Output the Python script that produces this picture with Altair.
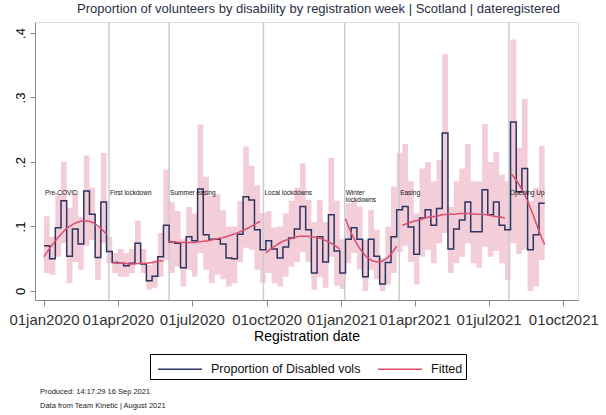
import altair as alt
import pandas as pd

# ---------------- data ----------------
week_start = pd.date_range("2020-01-01", periods=89, freq="7D").strftime("%Y-%m-%d").tolist()

prop = [
    0.070, 0.050, 0.098, 0.140, 0.054, 0.096, 0.073, 0.155, 0.119, 0.052,
    0.138, 0.061, 0.044, 0.043, 0.039, 0.043, 0.074, 0.042, 0.016, 0.023,
    0.053, 0.102, 0.076, 0.074, 0.036, 0.084, 0.078, 0.158, 0.087, 0.080,
    0.080, 0.073, 0.051, 0.050, 0.088, 0.146, 0.141, 0.095, 0.064, 0.078,
    0.065, 0.051, 0.068, 0.082, 0.096, 0.131, 0.095, 0.028, 0.084, 0.045,
    0.118, 0.062, 0.028, 0.080, 0.098, 0.080, 0.022, 0.080, 0.054, 0.011,
    0.044, 0.084, 0.126, 0.131, 0.099, 0.057, 0.113, 0.126, 0.102, 0.128,
    0.245, 0.065, 0.096, 0.110, 0.138, 0.092, 0.092, 0.157, 0.118, 0.138,
    0.102, 0.095, 0.262, 0.154, 0.190, 0.064, 0.087, 0.136, 0.136,
]
upper = [
    0.116, 0.084, 0.150, 0.200, 0.129, 0.150, 0.115, 0.210, 0.160, 0.100,
    0.214, 0.084, 0.059, 0.065, 0.059, 0.065, 0.109, 0.065, 0.040, 0.048,
    0.090, 0.188, 0.138, 0.124, 0.080, 0.130, 0.120, 0.258, 0.177, 0.147,
    0.150, 0.125, 0.100, 0.100, 0.140, 0.224, 0.194, 0.164, 0.121, 0.124,
    0.098, 0.100, 0.120, 0.140, 0.160, 0.198, 0.141, 0.107, 0.141, 0.107,
    0.206, 0.140, 0.080, 0.136, 0.140, 0.131, 0.079, 0.126, 0.095, 0.051,
    0.100, 0.162, 0.214, 0.228, 0.170, 0.120, 0.190, 0.200, 0.170, 0.203,
    0.367, 0.130, 0.170, 0.190, 0.228, 0.170, 0.170, 0.259, 0.200, 0.216,
    0.180, 0.170, 0.390, 0.222, 0.298, 0.140, 0.160, 0.225, 0.225,
]
lower = [
    0.028, 0.025, 0.053, 0.074, 0.012, 0.045, 0.033, 0.070, 0.079, 0.017,
    0.074, 0.043, 0.028, 0.022, 0.022, 0.028, 0.043, 0.028, 0.002, 0.005,
    0.022, 0.048, 0.028, 0.038, 0.007, 0.033, 0.022, 0.059, 0.033, 0.012,
    0.025, 0.018, 0.007, 0.012, 0.045, 0.067, 0.064, 0.033, 0.012, 0.028,
    0.012, 0.007, 0.022, 0.038, 0.045, 0.060, 0.045, 0.002, 0.022, 0.005,
    0.053, 0.008, 0.003, 0.043, 0.059, 0.033, 0.000, 0.033, 0.018, 0.000,
    0.010, 0.028, 0.060, 0.070, 0.045, 0.010, 0.053, 0.064, 0.043, 0.074,
    0.090, 0.028, 0.043, 0.053, 0.074, 0.043, 0.036, 0.069, 0.053, 0.062,
    0.043, 0.017, 0.074, 0.057, 0.064, 0.000, 0.007, 0.048, 0.048,
]
fitted = [
    0.053, 0.066, 0.078, 0.088, 0.097, 0.103, 0.107, 0.109, 0.108, 0.104, 0.097, 0.088,
    0.044, 0.043, 0.043, 0.042, 0.042, 0.043, 0.043, 0.044, 0.046, 0.047,
    0.077, 0.076, 0.075, 0.075, 0.075, 0.076, 0.077, 0.078, 0.080, 0.082, 0.084, 0.087,
    0.090, 0.094, 0.098, 0.103, 0.108,
    0.059, 0.066, 0.072, 0.077, 0.080, 0.083, 0.085, 0.085, 0.084, 0.083, 0.080, 0.076, 0.071, 0.065,
    0.112, 0.090, 0.073, 0.060, 0.051, 0.046, 0.045, 0.049, 0.057, 0.070,
    0.102, 0.105, 0.108, 0.110, 0.113, 0.115, 0.116, 0.118, 0.119, 0.119, 0.120, 0.120,
    0.120, 0.119, 0.119, 0.118, 0.116, 0.115, 0.113,
    0.183, 0.172, 0.157, 0.139, 0.117, 0.093, 0.072,
]

phase_names = ["Pre-COVID", "First lockdown", "Summer easing", "Local lockdowns",
               "Winter\nlockdowns", "Easing", "Opening Up"]
phase_starts = ["2020-01-01", "2020-03-21", "2020-06-03", "2020-09-27",
                "2021-01-05", "2021-03-13", "2021-07-26"]

notes = ["Produced: 14:17:29  16 Sep 2021", "Data from Team Kinetic | August 2021"]
tick_dates = [(2020, 1), (2020, 4), (2020, 7), (2020, 10), (2021, 1), (2021, 4), (2021, 7), (2021, 10)]

# ---------------- tables ----------------
def phase_of(d):
    name = phase_names[0]
    for n, s in zip(phase_names, phase_starts):
        if d >= s:
            name = n
    return name

df = pd.DataFrame({
    "date": week_start, "prop": prop, "upper": upper, "lower": lower,
    "fitted": fitted, "phase": [phase_of(d) for d in week_start],
})
phases = pd.DataFrame({"date": phase_starts, "name": phase_names,
                       "rule": [False] + [True] * (len(phase_names) - 1)})
notes_df = pd.DataFrame({"t": ["\n".join(notes)]})

FONT = "Liberation Sans"
NAVY = "#2b3560"
RED = "#dc4f6f"
PINK = "#f3cdd8"

x_enc = alt.X(
    "date:T",
    scale=alt.Scale(type="utc",
                    domain=[alt.DateTime(year=2019, month=12, date=21, utc=True),
                            alt.DateTime(year=2021, month=10, date=19, utc=True)]),
    axis=alt.Axis(
        values=[alt.DateTime(year=y, month=m, date=1, utc=True) for y, m in tick_dates],
        labelExpr="lower(utcFormat(datum.value, '%d%b%Y'))",
        title="Registration date", titleFontSize=14, titleFontWeight="normal",
        labelFontSize=15, tickSize=6, labelPadding=6, titlePadding=2, grid=False,
        labelOverlap=False, labelBound=False, labelFlush=False, labelColor="#333",
    ),
)
y_scale = alt.Scale(domain=[-0.014, 0.417], nice=False, zero=False)
y_axis = alt.Axis(
    values=[0, 0.1, 0.2, 0.3, 0.4],
    labelExpr="datum.value == 0 ? '0' : replace(format(datum.value, '.1f'), '0.', '.')",
    labelAngle=270, labelAlign="center", labelBaseline="bottom",
    title=None, tickSize=5, labelFontSize=13, labelPadding=3, grid=False,
)

base = alt.Chart(df)

band = base.mark_area(interpolate="step-after", color=PINK, opacity=1).encode(
    x=x_enc,
    y=alt.Y("upper:Q", scale=y_scale, axis=y_axis),
    y2="lower:Q",
)

rules = alt.Chart(phases).transform_filter("datum.rule").mark_rule(
    color="#cccccc", strokeWidth=1.5
).encode(x="date:T")

color_scale = alt.Scale(domain=["Proportion of Disabled vols", "Fitted"], range=[NAVY, RED])
legend = alt.Legend(
    orient="none", legendX=115, legendY=332, direction="horizontal", title=None,
    strokeColor="black", padding=3, symbolType="M-1,0H3", symbolSize=484,
    symbolStrokeWidth=1.6, symbolOffset=4, labelFontSize=12.5, labelFont=FONT,
    labelLimit=400, columnPadding=12, labelOffset=30, labelColor="#111",
)

step = base.transform_calculate(series="'Proportion of Disabled vols'").mark_line(
    interpolate="step-after", strokeWidth=1.5
).encode(
    x="date:T",
    y="prop:Q",
    color=alt.Color("series:N", scale=color_scale, legend=legend),
)

fit = base.transform_calculate(series="'Fitted'").mark_line(
    interpolate="monotone", strokeWidth=1.5
).encode(
    x="date:T",
    y="fitted:Q",
    detail="phase:N",
    color=alt.Color("series:N", scale=color_scale, legend=legend),
)

labels = alt.Chart(phases).mark_text(
    align="left", baseline="middle", dx=1, fontSize=6.5, font=FONT,
    lineBreak="\n", lineHeight=7, color="#111",
).encode(x="date:T", y=alt.datum(0.152), text="name:N")

note = alt.Chart(notes_df).mark_text(
    align="left", baseline="top", fontSize=7.5, font=FONT, lineBreak="\n",
    lineHeight=14, color="#222",
).encode(x=alt.value(5), y=alt.value(366), text="t:N")

chart = alt.layer(band, rules, step, fit, labels, note).properties(
    width=543, height=278,
    autosize=alt.AutoSizeParams(type="none"),
    padding={"left": 35, "top": 22, "right": 28, "bottom": 115},
    title=alt.TitleParams(
        "Proportion of volunteers by disability by registration week | Scotland | dateregistered",
        fontSize=13, font=FONT, fontWeight="normal", color="#2a3045",
        anchor="middle", offset=5, dx=12,
    ),
).configure_view(stroke="#dfeaea").configure_axis(
    labelFont=FONT, titleFont=FONT, titleFontWeight="normal",
    domainColor="#555", tickColor="#555", labelColor="#222", titleColor="#111",
).configure(background="white")

chart.save("out.html", embed_options={"renderer": "svg", "actions": False})
